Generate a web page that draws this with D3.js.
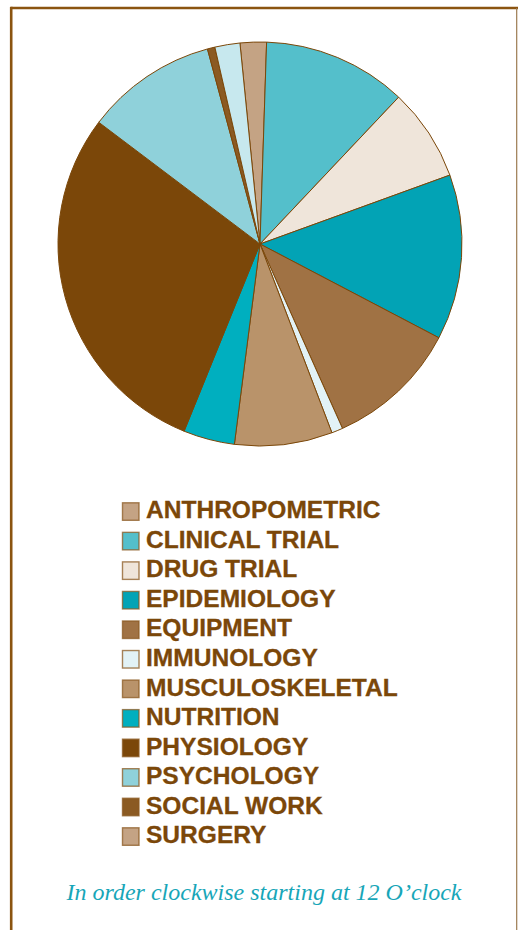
<!DOCTYPE html>
<html>
<head>
<meta charset="utf-8">
<script src="https://cdn.jsdelivr.net/npm/d3@7"></script>
<style>
  html, body { margin: 0; padding: 0; background: #ffffff; }
  svg { display: block; }
</style>
</head>
<body>
<svg id="chart" width="518" height="930"></svg>
<script>
// ---- data ----
const categories = ["ANTHROPOMETRIC", "CLINICAL TRIAL", "DRUG TRIAL", "EPIDEMIOLOGY", "EQUIPMENT",
  "IMMUNOLOGY", "MUSCULOSKELETAL", "NUTRITION", "PHYSIOLOGY", "PSYCHOLOGY", "SOCIAL WORK", "SURGERY"];
const values = [2.1, 11.5, 7.4, 13.2, 10.6, 0.9, 7.8, 4.1, 29.1, 10.5, 0.6, 2.0];
const sliceColors = ["#C4A384", "#54BFCB", "#EFE5DA", "#02A3B5", "#A07244", "#E2F2F6",
  "#B9936A", "#00AFBF", "#7B4709", "#8FD1DA", "#8B5A22", "#C7E8EE"];
const legendColors = ["#C4A384", "#54BFCB", "#EFE5DA", "#02A3B5", "#A07244", "#E2F2F6",
  "#B9936A", "#00AFBF", "#7B4709", "#8FD1DA", "#8B5A22", "#C4A384"];
const caption = "In order clockwise starting at 12 O\u2019clock";

// ---- drawing ----
const svg = d3.select("#chart");

// frame
svg.append("line").attr("x1", 11.2).attr("y1", 8).attr("x2", 518).attr("y2", 8)
  .attr("stroke", "#8B5410").attr("stroke-width", 2.6);
svg.append("line").attr("x1", 11.2).attr("y1", 6.7).attr("x2", 11.2).attr("y2", 930)
  .attr("stroke", "#8B5410").attr("stroke-width", 2.6);
svg.append("line").attr("x1", 516.7).attr("y1", 8).attr("x2", 516.7).attr("y2", 930)
  .attr("stroke", "#9C7A50").attr("stroke-width", 1.2);

// pie
const cx = 260, cy = 244, r = 202;
const startOffset = -5.7 * Math.PI / 180;
const pie = d3.pie().sort(null).value(d => d.v)
  .startAngle(startOffset).endAngle(startOffset + 2 * Math.PI);
const arc = d3.arc().innerRadius(0).outerRadius(r);
const data = categories.map((c, i) => ({ c, v: values[i], color: sliceColors[i] }));

const g = svg.append("g").attr("transform", `translate(${cx},${cy})`);
g.selectAll("path").data(pie(data)).join("path")
  .attr("d", arc)
  .attr("fill", d => d.data.color)
  .attr("stroke", "#7B4709")
  .attr("stroke-width", 1)
  .attr("stroke-linejoin", "round");

// legend
const rowY = d3.scaleLinear().domain([0, categories.length - 1]).range([518.3, 843.3]);
const leg = svg.append("g");
const rows = leg.selectAll("g").data(categories).join("g")
  .attr("transform", (d, i) => `translate(0,${rowY(i)})`);
rows.append("rect")
  .attr("x", 122.5).attr("y", -15.5).attr("width", 16.5).attr("height", 17.5)
  .attr("fill", (d, i) => legendColors[i])
  .attr("stroke", "#8B5A22").attr("stroke-opacity", 0.75).attr("stroke-width", 1.4);
rows.append("text")
  .attr("transform", "translate(146,0) scale(1.045,1)")
  .attr("x", 0).attr("y", 0)
  .attr("font-family", "'Liberation Sans', Arial, sans-serif")
  .attr("font-weight", "bold")
  .attr("font-size", 23.5)
  .attr("fill", "#7B4709")
  .attr("stroke", "#7B4709").attr("stroke-width", 0.3)
  .text(d => d);

// caption
svg.append("text")
  .attr("x", 264).attr("y", 899.5)
  .attr("text-anchor", "middle")
  .attr("font-family", "'Liberation Serif', 'Times New Roman', serif")
  .attr("font-style", "italic")
  .attr("font-size", 24)
  .attr("fill", "#17A6B8")
  .text(caption);
</script>
</body>
</html>
